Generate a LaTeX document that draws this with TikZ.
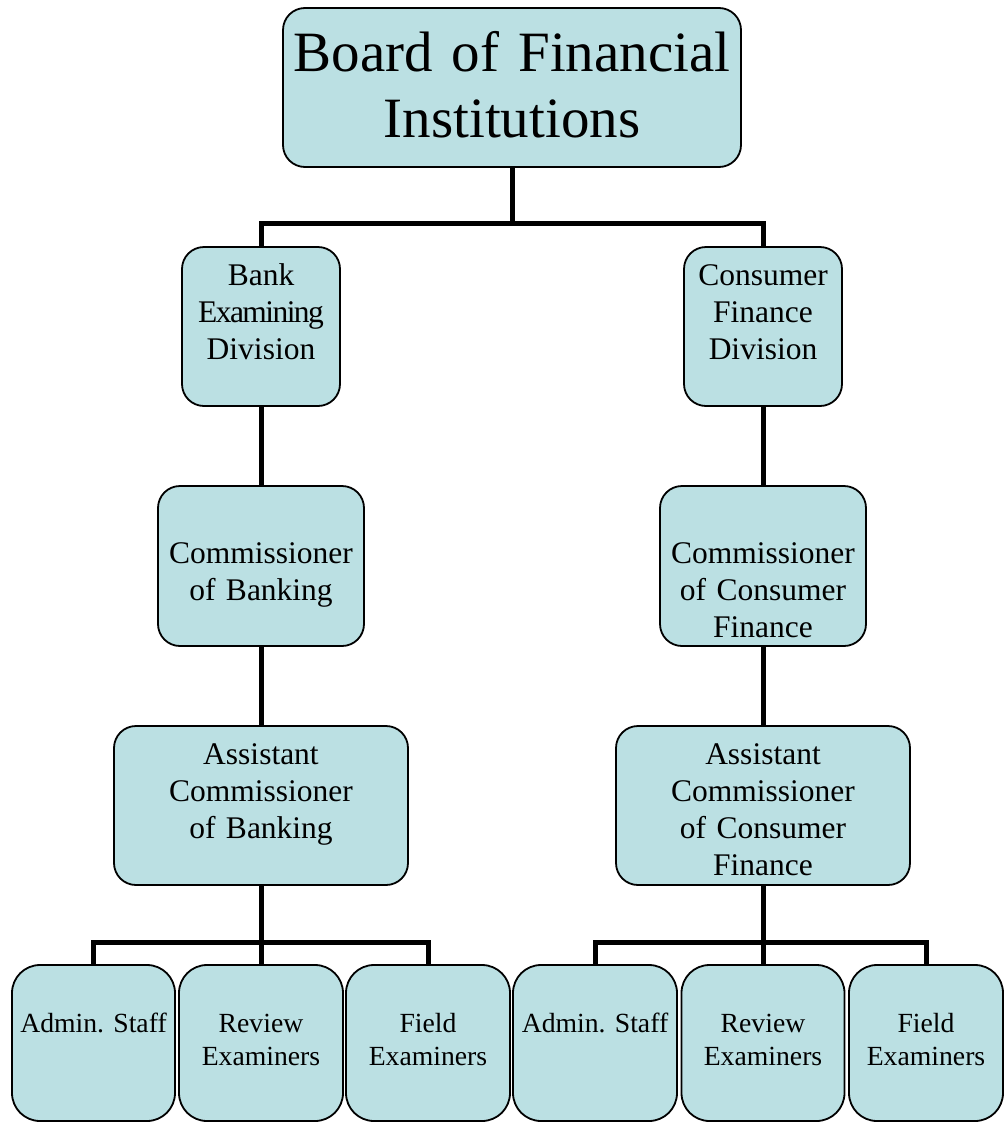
\documentclass[tikz,border=0pt]{standalone}
\usepackage{fontspec}
\setmainfont{Liberation Serif}
\frenchspacing
\definecolor{boxfill}{RGB}{187,224,227}
\begin{document}
\begin{tikzpicture}[x=1pt,y=-1pt,
  box/.style={draw=black, line width=1.8pt, fill=boxfill, rounded corners=22pt, inner sep=0pt},
  leafbox/.style={box, rounded corners=28pt, minimum height=156pt},
  conn/.style={line width=5pt, draw=black},
  lbl/.style={align=center, text width=#1, anchor=base, inner sep=0pt},
  lbl/.default=300pt,
  bigfont/.style={font=\fontsize{57}{66}\selectfont},
  midfont/.style={font=\fontsize{31.5}{37}\selectfont},
  smallfont/.style={font=\fontsize{27.7}{33}\selectfont}]
\useasboundingbox (0,0) rectangle (1005,1122);

% boxes
\node[box, minimum width=458pt, minimum height=159pt] (top) at (512,87.5) {};
\node[box, minimum width=158pt, minimum height=159pt] (bank) at (261,326.5) {};
\node[box, minimum width=158pt, minimum height=159pt] (cons) at (763,326.5) {};
\node[box, minimum width=206pt, minimum height=160pt] (comb) at (261,566) {};
\node[box, minimum width=206pt, minimum height=160pt] (comc) at (763,566) {};
\node[box, minimum width=294pt, minimum height=159pt] (asb) at (261,805.5) {};
\node[box, minimum width=294pt, minimum height=159pt] (asc) at (763,805.5) {};
\node[leafbox, minimum width=163pt] (adb) at (93.5,1043) {};
\node[leafbox, minimum width=164pt] (rvb) at (261,1043) {};
\node[leafbox, minimum width=164pt] (fdb) at (428,1043) {};
\node[leafbox, minimum width=164pt] (adc) at (595,1043) {};
\node[leafbox, minimum width=163pt] (rvc) at (763,1043) {};
\node[leafbox, minimum width=154pt] (fdc) at (926,1043) {};

% junctions
\coordinate (b1) at (512,223);
\coordinate (b2) at (261,942);
\coordinate (b3) at (763,942);

% connectors
\draw[conn] (top.south) -- (b1);
\draw[conn] (bank.north) |- (b1) -| (cons.north);
\draw[conn] (bank.south) -- (comb.north);
\draw[conn] (cons.south) -- (comc.north);
\draw[conn] (comb.south) -- (asb.north);
\draw[conn] (comc.south) -- (asc.north);
\draw[conn] (asb.south) -- (rvb.north);
\draw[conn] (asc.south) -- (rvc.north);
\draw[conn] (adb.north) |- (b2) -| (fdb.north);
\draw[conn] (adc.north) |- (b3) -| (fdc.north);

% texts
\node[lbl=480pt, bigfont] (top-t) at (512,71) {Board of Financial\\Institutions};
\node[lbl, midfont] (bank-t) at (261,285.5) {Bank\\{\addfontfeature{LetterSpace=-5}Examining}\\Division};
\node[lbl, midfont] (cons-t) at (763,285.5) {Consumer\\Finance\\Division};
\node[lbl, midfont] (comb-t) at (261,563) {Commissioner\\of Banking};
\node[lbl, midfont] (comc-t) at (763,563) {Commissioner\\of Consumer\\Finance};
\node[lbl, midfont] (asb-t) at (261,764.5) {Assistant\\Commissioner\\of Banking};
\node[lbl, midfont] (asc-t) at (763,764.5) {Assistant\\Commissioner\\of Consumer\\Finance};
\node[lbl=160pt, smallfont] (adb-t) at (93.5,1032) {Admin. Staff};
\node[lbl=160pt, smallfont] (rvb-t) at (261,1032) {Review\\Examiners};
\node[lbl=160pt, smallfont] (fdb-t) at (428,1032) {Field\\Examiners};
\node[lbl=160pt, smallfont] (adc-t) at (595,1032) {Admin. Staff};
\node[lbl=160pt, smallfont] (rvc-t) at (763,1032) {Review\\Examiners};
\node[lbl=160pt, smallfont] (fdc-t) at (926,1032) {Field\\Examiners};
\end{tikzpicture}
\end{document}
